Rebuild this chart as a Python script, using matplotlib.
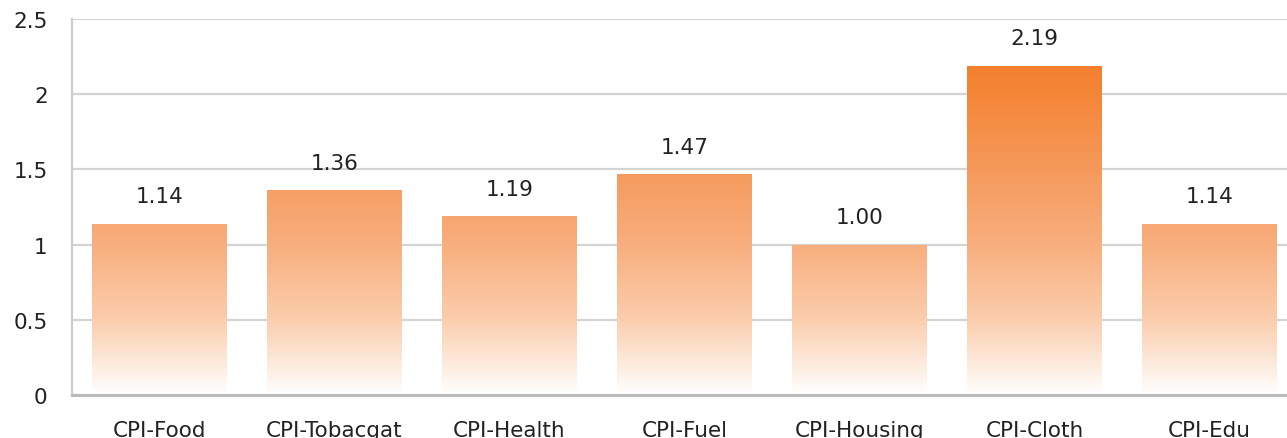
import numpy as np
import matplotlib
matplotlib.use("Agg")
import matplotlib.pyplot as plt
from matplotlib.colors import LinearSegmentedColormap

categories = ["CPI-Food", "CPI-Tobacgat", "CPI-Health", "CPI-Fuel", "CPI-Housing", "CPI-Cloth", "CPI-Edu"]
values = [1.14, 1.36, 1.19, 1.47, 1.00, 2.19, 1.14]
labels = ["1.14", "1.36", "1.19", "1.47", "1.00", "2.19", "1.14"]
yticks = [0, 0.5, 1, 1.5, 2, 2.5]
ytick_labels = ["0", "0.5", "1", "1.5", "2", "2.5"]

plt.rcParams['font.family'] = ['DejaVu Sans']

cmap = LinearSegmentedColormap.from_list("og", [
    (0.0, "#FFFFFF"),
    (0.05, "#FEF4EC"),
    (0.23, "#FBCDAC"),
    (0.455, "#F8AE7E"),
    (0.68, "#F59A5C"),
    (0.91, "#F48638"),
    (1.0, "#F37F2F"),
])

fig = plt.figure(figsize=(12.87, 4.39), dpi=100)
ax = fig.add_axes([72/1287, 43/439, 1225/1287, 376/439])

x = np.arange(len(categories))
width = 0.77
bars = ax.bar(x, values, width=width, color="none", edgecolor="none", zorder=2)
for b, v in zip(bars, values):
    x0 = b.get_x()
    x1 = x0 + b.get_width()
    im = ax.imshow(np.linspace(0, v, 256).reshape(-1, 1), cmap=cmap, vmin=0, vmax=2.19,
                   extent=[x0, x1, 0, v], origin="lower", aspect="auto", zorder=2,
                   interpolation="bilinear")
    im.set_clip_path(b)

for xi, v, lab in zip(x, values, labels):
    ax.annotate(lab, (xi, v), xytext=(0, 12.5), textcoords="offset points",
                ha="center", va="bottom", fontsize=15.5, color="#222222")

ax.set_xlim(-0.5, len(categories) - 0.5)
ax.set_ylim(0, 2.5)
ax.set_yticks(yticks)
ax.set_yticklabels(ytick_labels)
ax.set_xticks(x)
ax.set_xticklabels(categories)
ax.tick_params(axis="y", length=0, pad=17.5, labelsize=15.5, labelcolor="#222222")
ax.tick_params(axis="x", length=0, pad=18, labelsize=15.5, labelcolor="#222222")

ax.grid(axis="y", color="#D4D4D4", linewidth=1.6, zorder=0)
ax.set_axisbelow(True)
for s in ["top", "right"]:
    ax.spines[s].set_visible(False)
ax.spines["left"].set_color("#CCCCCC")
ax.spines["left"].set_linewidth(1.6)
ax.spines["bottom"].set_color("#BBBBBB")
ax.spines["bottom"].set_linewidth(2.2)

fig.savefig("out.png", dpi=100)
